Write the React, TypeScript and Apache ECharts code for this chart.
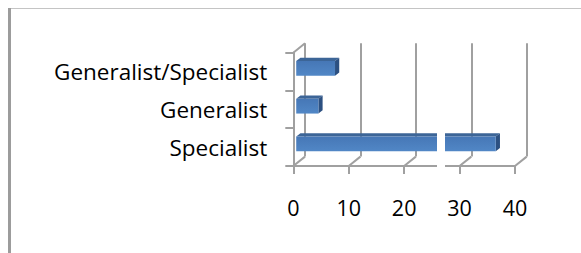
import React, { useEffect, useRef } from "react";
import * as echarts from "echarts";

const categories = ["Specialist", "Generalist", "Generalist/Specialist"];
const values = [36, 4, 7];
const xTicks = [0, 10, 20, 30, 40];
const xMin = 0;
const xMax = 40;
const xStep = 10;

const DX = 11.7;
const DY = -9.4;
const GRID_LEFT = 293.3;
const GRID_TOP = 52.7;
const GRID_W = 221.7;
const GRID_H = 113.3;
const LINE = "#a0a0a0";
const FONT = "'Open Sans', sans-serif";

export default function App() {
  const ref = useRef<HTMLDivElement>(null);
  useEffect(() => {
    if (!ref.current) return;
    const chart = echarts.init(ref.current, undefined, { renderer: "svg" });

    const renderBar = (params: any, api: any) => {
      const v = api.value(0);
      const c = api.value(1);
      const p0 = api.coord([0, c]);
      const p1 = api.coord([v, c]);
      const band = api.size([0, 1])[1];
      const h = band * 0.39;
      const f0 = 0.25;
      const f1 = 0.61;
      const x0 = p0[0] + DX * f0;
      const x1 = p1[0] + DX * f0;
      const yc = p0[1] + DY * f0 - 0.8;
      const yt = yc - h / 2;
      const yb = yc + h / 2;
      const bx = DX * (f1 - f0);
      const by = DY * (f1 - f0);
      return {
        type: "group",
        children: [
          {
            type: "polygon",
            shape: { points: [[x0, yt], [x1, yt], [x1 + bx, yt + by], [x0 + bx, yt + by]] },
            style: { fill: "#3c6597" },
          },
          {
            type: "polygon",
            shape: { points: [[x1, yt], [x1 + bx, yt + by], [x1 + bx, yb + by], [x1, yb]] },
            style: { fill: "#2c5081" },
          },
          {
            type: "rect",
            shape: { x: x0, y: yt, width: x1 - x0, height: h },
            style: {
              fill: new echarts.graphic.LinearGradient(0, 0, 0, 1, [
                { offset: 0, color: "#4677b6" },
                { offset: 1, color: "#5187c6" },
              ]),
            },
          },
        ],
      };
    };

    const renderFrame = (params: any, api: any) => {
      const t = api.value(0);
      const cs = params.coordSys;
      const x = api.coord([t, 0])[0];
      const yf = cs.y + cs.height;
      const children: any[] = [
        {
          type: "line",
          shape: { x1: x, y1: yf, x2: x + DX, y2: yf + DY },
          style: { stroke: LINE, lineWidth: 2 },
        },
      ];
      if (t === xMin) {
        children.push({
          type: "line",
          shape: { x1: x, y1: cs.y, x2: x + DX, y2: cs.y + DY },
          style: { stroke: LINE, lineWidth: 2 },
        });
      }
      return { type: "group", children };
    };

    chart.setOption({
      animation: false,
      grid: [
        { left: GRID_LEFT, top: GRID_TOP, width: GRID_W, height: GRID_H },
        { left: GRID_LEFT + DX, top: GRID_TOP + DY, width: GRID_W, height: GRID_H },
      ],
      xAxis: [
        {
          type: "value",
          gridIndex: 0,
          min: xMin,
          max: xMax,
          interval: xStep,
          axisLine: { show: true, lineStyle: { color: LINE, width: 2 } },
          axisTick: { show: true, length: 8, lineStyle: { color: LINE, width: 2 } },
          axisLabel: { color: "#000", fontFamily: FONT, fontSize: 21.5, margin: 30 },
          splitLine: { show: false },
          z: 3,
        },
        {
          type: "value",
          gridIndex: 1,
          min: xMin,
          max: xMax,
          interval: xStep,
          axisLine: { show: false },
          axisTick: { show: false },
          axisLabel: { show: false },
          splitLine: { show: true, lineStyle: { color: LINE, width: 2 } },
        },
      ],
      yAxis: [
        {
          type: "category",
          gridIndex: 0,
          data: categories,
          axisLine: { show: true, lineStyle: { color: LINE, width: 2 } },
          axisTick: { show: true, length: 8, lineStyle: { color: LINE, width: 2 } },
          axisLabel: { color: "#000", fontFamily: FONT, fontSize: 22.5, margin: 26 },
          z: 3,
        },
        {
          type: "category",
          gridIndex: 1,
          data: categories,
          show: false,
        },
      ],
      series: [
        {
          type: "custom",
          xAxisIndex: 0,
          yAxisIndex: 0,
          data: xTicks.map((t) => [t]),
          renderItem: renderFrame,
          clip: false,
          z: 1,
          silent: true,
        },
        {
          type: "custom",
          xAxisIndex: 0,
          yAxisIndex: 0,
          data: values.map((v, i) => [v, i]),
          renderItem: renderBar,
          clip: false,
          z: 5,
        },
      ],
      graphic: [
        {
          type: "line",
          shape: { x1: 8, y1: 8.5, x2: 581, y2: 8.5 },
          style: { stroke: "#c4c4c4", lineWidth: 1 },
          z: 100,
        },
        {
          type: "line",
          shape: { x1: 9.5, y1: 8, x2: 9.5, y2: 253 },
          style: { stroke: "#9c9c9c", lineWidth: 3 },
          z: 100,
        },
        {
          type: "rect",
          shape: { x: 437, y: 128, width: 8, height: 45 },
          style: { fill: "#ffffff" },
          z: 100,
        },
      ],
    });
    return () => chart.dispose();
  }, []);
  return (
    <div
      ref={ref}
      style={{ position: "fixed", left: 0, top: 0, width: 581, height: 253, background: "#fff" }}
    />
  );
}
